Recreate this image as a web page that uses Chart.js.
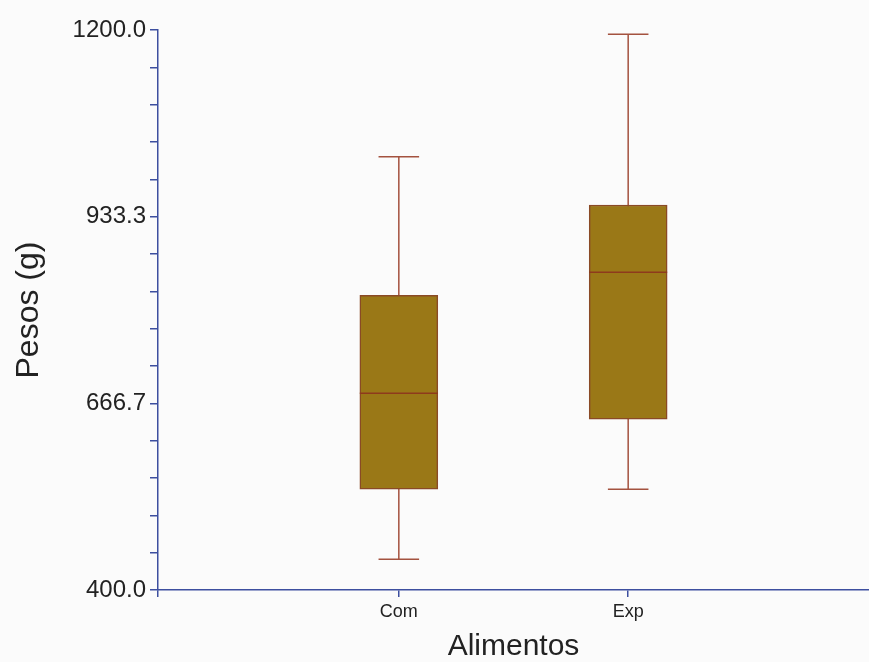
<!DOCTYPE html>
<html>
<head>
<meta charset="utf-8">
<script src="https://cdn.jsdelivr.net/npm/chart.js@4"></script>
<style>
  html, body { margin: 0; padding: 0; background: #fbfbfb; }
  #wrap { width: 869px; height: 662px; }
</style>
</head>
<body>
<div id="wrap"><canvas id="chart"></canvas></div>
<script>
// box plot values (g)
const categories = ['Com', 'Exp'];
const positions = [1, 2];
const whiskerLow = [444, 544];
const quartile1 = [544, 644];
const medians = [681, 854];
const quartile3 = [821, 950];
const whiskerHigh = [1019, 1194];
const yTickLabels = [400.0, 666.7, 933.3, 1200.0];

const axisColor = '#3d4f9f';
const lineColor = '#a4523f';
const fontFamily = 'Liberation Sans, Arial, sans-serif';

// whiskers go under the boxes, medians on top
const boxPlotLines = {
    id: 'boxPlotLines',
    beforeDatasetsDraw(chart) {
        const ctx = chart.ctx;
        const x = chart.scales.x, y = chart.scales.y;
        const bars = chart.getDatasetMeta(0).data;
        ctx.save();
        ctx.strokeStyle = lineColor;
        ctx.lineWidth = 1.5;
        positions.forEach((p, i) => {
            const px = x.getPixelForValue(p);
            const half = bars[i].width * 0.26;
            const lo = y.getPixelForValue(whiskerLow[i]);
            const hi = y.getPixelForValue(whiskerHigh[i]);
            ctx.beginPath();
            ctx.moveTo(px, lo); ctx.lineTo(px, hi);
            ctx.moveTo(px - half, lo); ctx.lineTo(px + half, lo);
            ctx.moveTo(px - half, hi); ctx.lineTo(px + half, hi);
            ctx.stroke();
        });
        ctx.restore();
    },
    afterDatasetsDraw(chart) {
        const ctx = chart.ctx;
        const y = chart.scales.y;
        const bars = chart.getDatasetMeta(0).data;
        ctx.save();
        ctx.strokeStyle = '#8e3a1c';
        ctx.lineWidth = 1.5;
        bars.forEach((bar, i) => {
            const my = y.getPixelForValue(medians[i]);
            ctx.beginPath();
            ctx.moveTo(bar.x - bar.width / 2, my);
            ctx.lineTo(bar.x + bar.width / 2, my);
            ctx.stroke();
        });
        ctx.restore();
    }
};

const ctx = document.getElementById('chart');
const myChart = new Chart(ctx, {
    type: 'bar',
    data: {
        datasets: [{
            label: 'Pesos',
            data: positions.map((p, i) => ({ x: p, y: [quartile1[i], quartile3[i]] })),
            backgroundColor: '#9a7817',
            borderColor: '#8a4a26',
            borderWidth: 1.5,
            borderSkipped: false,
            barThickness: 78
        }]
    },
    plugins: [boxPlotLines],
    options: {
        responsive: true,
        maintainAspectRatio: false,
        animation: false,
        layout: { padding: { top: 30, right: 0, bottom: 0, left: 0 } },
        plugins: {
            legend: { display: false },
            tooltip: { enabled: false }
        },
        scales: {
            x: {
                type: 'linear',
                offset: false,
                min: -0.05,
                max: 3.05,
                afterBuildTicks: (scale) => {
                    scale.ticks = [{ value: -0.05 }].concat(positions.map(v => ({ value: v })));
                },
                afterFit: (scale) => { scale.height = 72; },
                ticks: {
                    autoSkip: false,
                    maxRotation: 0,
                    padding: 4,
                    color: '#222',
                    font: { family: fontFamily, size: 18 },
                    callback: (v) => {
                        const k = positions.indexOf(v);
                        return k >= 0 ? categories[k] : '';
                    }
                },
                grid: { offset: false, drawOnChartArea: false, drawTicks: true, tickLength: 7, color: axisColor, lineWidth: 1.5 },
                border: { display: true, color: axisColor, width: 1.5 },
                title: {
                    display: true,
                    text: 'Alimentos',
                    color: '#222',
                    font: { family: fontFamily, size: 30, lineHeight: 1 },
                    padding: { top: 1, bottom: 0 }
                }
            },
            y: {
                min: 400,
                max: 1200,
                afterBuildTicks: (scale) => {
                    const t = [];
                    for (let k = 0; k < yTickLabels.length - 1; k++) {
                        const a = yTickLabels[k], b = yTickLabels[k + 1];
                        for (let s = 0; s < 5; s++) t.push({ value: a + (b - a) * s / 5 });
                    }
                    t.push({ value: yTickLabels[yTickLabels.length - 1] });
                    scale.ticks = t;
                },
                afterFit: (scale) => { scale.width = 158; },
                ticks: {
                    autoSkip: false,
                    padding: 4,
                    color: '#222',
                    font: { family: fontFamily, size: 24 },
                    callback: (v, i) => (i % 5 === 0 ? v.toFixed(1) : '')
                },
                grid: { drawOnChartArea: false, drawTicks: true, tickLength: 8, color: axisColor, lineWidth: 1.5 },
                border: { display: true, color: axisColor, width: 1.5 },
                title: {
                    display: true,
                    text: 'Pesos (g)',
                    color: '#222',
                    font: { family: fontFamily, size: 32, lineHeight: 1 },
                    padding: { top: 13, bottom: 0 }
                }
            }
        }
    }
});
</script>
</body>
</html>
